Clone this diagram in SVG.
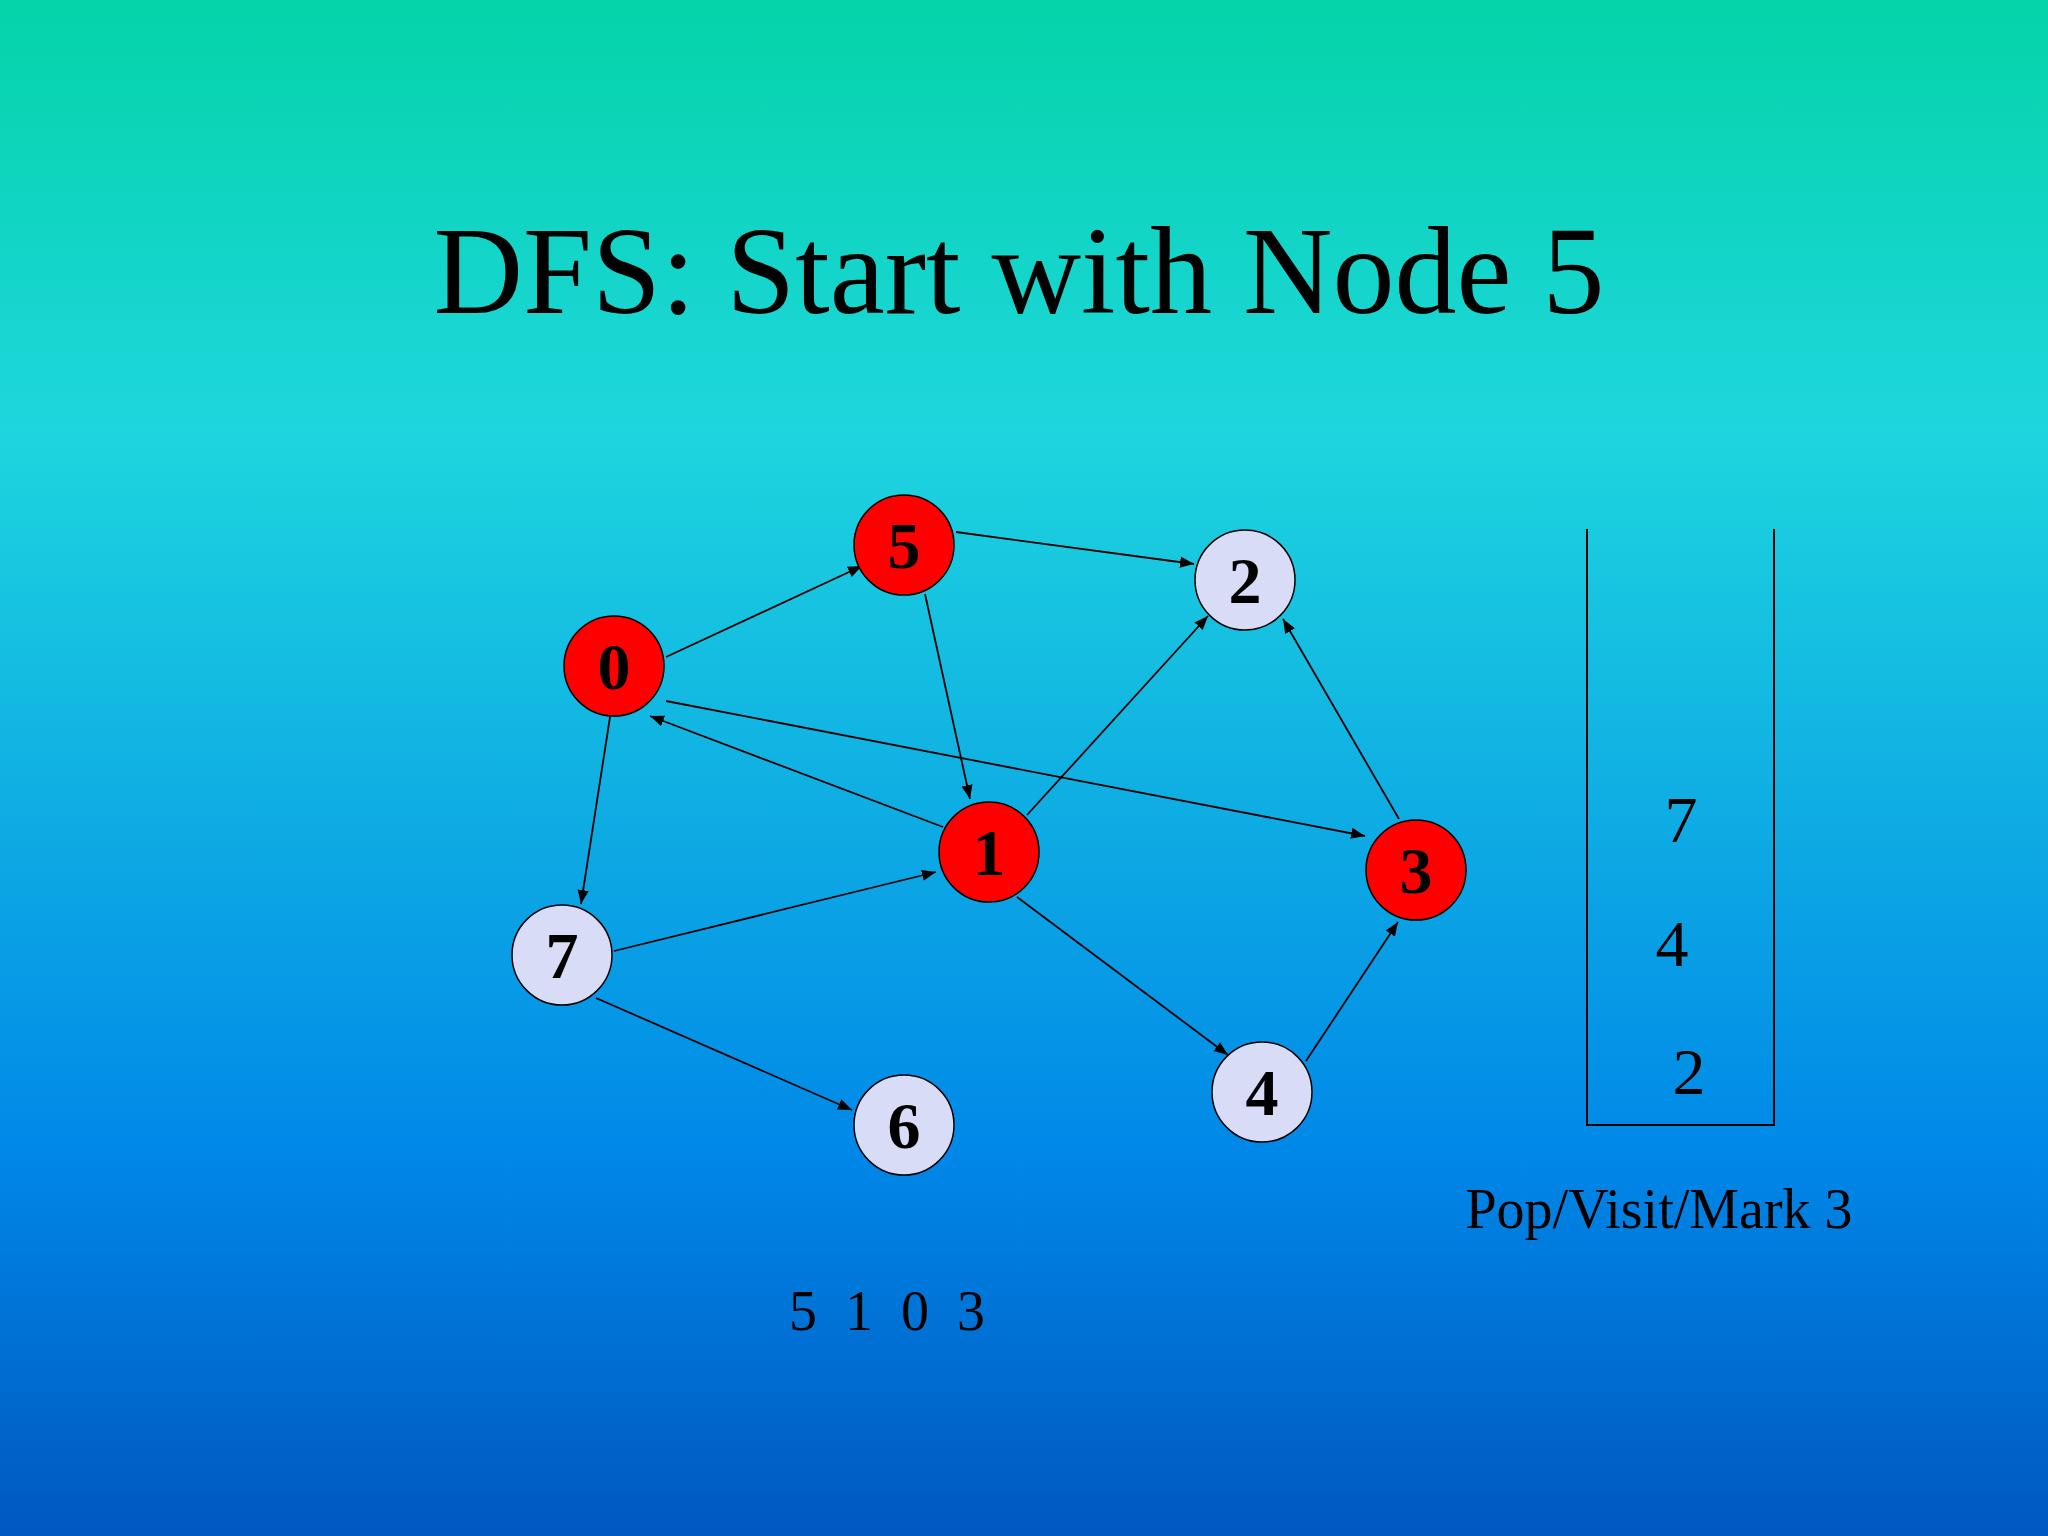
<svg xmlns="http://www.w3.org/2000/svg" width="2048" height="1536" viewBox="0 0 2048 1536">
<defs>
<linearGradient id="bg" x1="0" y1="0" x2="0" y2="1">
<stop offset="0" stop-color="#04d4a8"/>
<stop offset="0.28" stop-color="#1ed6de"/>
<stop offset="0.75" stop-color="#0088e8"/>
<stop offset="1" stop-color="#0058c0"/>
</linearGradient>
<marker id="ah" viewBox="0 0 10 10" refX="10" refY="5" markerWidth="14" markerHeight="14" markerUnits="userSpaceOnUse" orient="auto">
<path d="M0,1 L10,5 L0,9 z" fill="#000"/>
</marker>
</defs>
<style>
.e{stroke:#000;stroke-width:1.8;fill:none;marker-end:url(#ah)}
.n circle{stroke:#000;stroke-width:1.5}
.red{fill:#ff0000}
.lt{fill:#d8dcf6}
.nl{font-family:"Liberation Serif",serif;font-weight:bold;font-size:66px;text-anchor:middle;fill:#000}
.t{font-family:"Liberation Serif",serif;fill:#000}
</style>
<rect width="2048" height="1536" fill="url(#bg)"/>
<text class="t" x="1019" y="313" font-size="124" text-anchor="middle">DFS: Start with Node 5</text>
<g id="connectors">
<line class="e" x1="666" y1="657" x2="862" y2="566"/>
<line class="e" x1="956" y1="532" x2="1194" y2="564"/>
<line class="e" x1="925" y1="594" x2="970" y2="799"/>
<line class="e" x1="666" y1="701" x2="1365" y2="836"/>
<line class="e" x1="943" y1="827" x2="650" y2="716"/>
<line class="e" x1="1027" y1="815" x2="1208" y2="616"/>
<line class="e" x1="610" y1="717" x2="581" y2="904"/>
<line class="e" x1="614" y1="951" x2="936" y2="872"/>
<line class="e" x1="596" y1="998" x2="852" y2="1110"/>
<line class="e" x1="1017" y1="897" x2="1228" y2="1055"/>
<line class="e" x1="1306" y1="1061" x2="1398" y2="922"/>
<line class="e" x1="1399" y1="819" x2="1283" y2="619"/>
</g>
<g id="n5" class="n"><circle class="red" cx="904" cy="545" r="50"/><text class="nl" x="904" y="568">5</text></g>
<g id="n2" class="n"><circle class="lt" cx="1245" cy="580" r="50"/><text class="nl" x="1245" y="603">2</text></g>
<g id="n0" class="n"><circle class="red" cx="614" cy="666" r="50"/><text class="nl" x="614" y="689">0</text></g>
<g id="n1" class="n"><circle class="red" cx="989" cy="852" r="50"/><text class="nl" x="989" y="875">1</text></g>
<g id="n3" class="n"><circle class="red" cx="1416" cy="870" r="50"/><text class="nl" x="1416" y="893">3</text></g>
<g id="n7" class="n"><circle class="lt" cx="562" cy="955" r="50"/><text class="nl" x="562" y="978">7</text></g>
<g id="n4" class="n"><circle class="lt" cx="1262" cy="1092" r="50"/><text class="nl" x="1262" y="1115">4</text></g>
<g id="n6" class="n"><circle class="lt" cx="904" cy="1125" r="50"/><text class="nl" x="904" y="1148">6</text></g>
<g id="stack">
<polyline points="1587,529 1587,1125 1774,1125 1774,529" fill="none" stroke="#000" stroke-width="2"/>
<text class="t" x="1681" y="842" font-size="66" text-anchor="middle">7</text>
<text class="t" x="1672" y="966" font-size="66" text-anchor="middle">4</text>
<text class="t" x="1689" y="1094" font-size="66" text-anchor="middle">2</text>
</g>
<text class="t" x="1659" y="1228" font-size="56" text-anchor="middle">Pop/Visit/Mark 3</text>
<text class="t" x="789" y="1330" font-size="56" xml:space="preserve">5  1  0  3</text>
</svg>
